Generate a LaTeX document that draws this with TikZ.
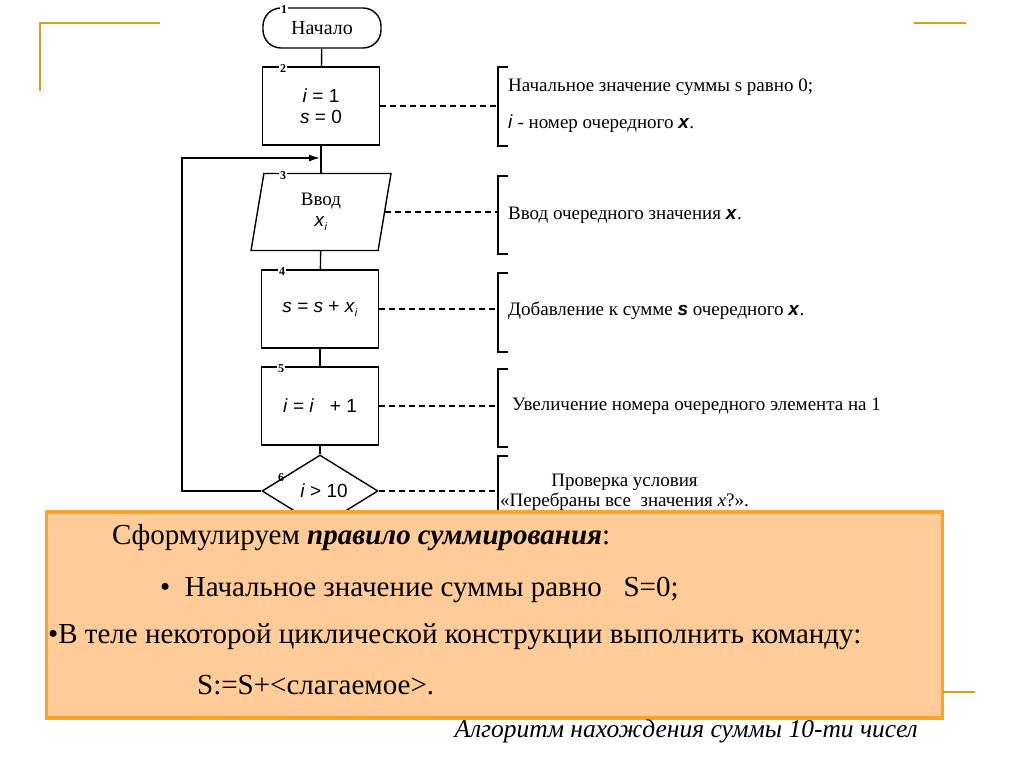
\documentclass[tikz,border=0pt]{standalone}
\usepackage{fontspec}
\setmainfont{Liberation Serif}
\setsansfont{Liberation Sans}
\usepackage{xcolor}
\usetikzlibrary{shapes.geometric, arrows.meta, positioning, calc}
\definecolor{cornergold}{RGB}{214, 160, 30}
\definecolor{peach}{RGB}{255, 204, 153}
\definecolor{boxorange}{RGB}{250, 165, 40}

\newcommand{\subi}{\raisebox{-4pt}{\fontsize{11}{11}\selectfont\textit{i}}}

\tikzset{
    block/.style={draw, line width=1.4pt, minimum width=117pt, minimum height=78pt,
                  align=center, font=\sffamily\fontsize{19}{22}\selectfont},
    blocknum/.style={fill=white, inner sep=1pt, font=\bfseries\fontsize{12}{12}\selectfont},
    note/.style={anchor=west, align=left, inner sep=0pt, font=\fontsize{19}{37}\selectfont},
    dashlink/.style={line width=1.4pt, dash pattern=on 6pt off 4pt},
    notebracket/.style={line width=1.5pt},
    flow/.style={line width=1.4pt},
    ruletext/.style={anchor=west, inner sep=0pt, font=\fontsize{29}{34}\selectfont}
}

\begin{document}
\begin{tikzpicture}[x=1pt, y=-1pt]
    \useasboundingbox (0,0) rectangle (1024,767);
    \fill[white] (0,0) rectangle (1024,767);

    % gold slide corners
    \draw[cornergold, line width=2pt] (40,91) -- (40,23) -- (160,23);
    \draw[cornergold, line width=2pt] (914,23) -- (966,23);

    % flowchart blocks
    \node[block, rounded corners=18pt, minimum width=118pt, minimum height=40pt,
          font=\fontsize{20}{22}\selectfont] (start) at (322,28) {Начало};
    \node[block] (init) at (321,106) {\textit{i} = 1\\[-1pt]\textit{s} = 0};
    \node[block, trapezium, trapezium left angle=71, trapezium right angle=109,
          trapezium stretches body, minimum width=140pt, minimum height=77pt,
          inner sep=0pt] (input) at (321,212)
          {{\rmfamily\fontsize{19}{21}\selectfont Ввод}\\[-1pt]\textit{x}\subi};
    \node[block] (add) at (320,309) {\textit{s} = \textit{s} + \textit{x}\subi};
    \node[block] (incr) at (320,406) {\textit{i} = \textit{i} \ \ + 1};
    \node[block, diamond, aspect=1.6, minimum width=116pt, minimum height=72pt,
          inner sep=0pt] (check) at (320,491) {\hspace*{8pt}\textit{i} > 10};

    % block numbers
    \node[blocknum] at (284,10) {1};
    \node[blocknum] at (283,69) {2};
    \node[blocknum] at (283,176) {3};
    \node[blocknum] at (282,272) {4};
    \node[blocknum] at (281,369) {5};
    \node[blocknum, fill=none] at (281,478) {6};

    % flow lines
    \coordinate (join) at (320,158);
    \coordinate (loopbot) at (182,491);
    \draw[flow] (start) -- (init);
    \draw[flow] (init) -- (input);
    \draw[flow] (input) -- (add);
    \draw[flow] (add) -- (incr);
    \draw[flow] (incr) -- (check);
    \draw[flow, -{Latex[length=11pt, width=7pt]}] (check.west) -- (loopbot) |- (join);

    % comments
    \node[note] (c2) at (508,106) {Начальное значение суммы s равно 0;\\
        \textit{\sffamily i} - номер очередного \textbf{\textit{\sffamily x}}.};
    \node[note] (c3) at (508,215) {Ввод очередного значения \textbf{\textit{\sffamily x}}.};
    \node[note] (c4) at (508,311) {Добавление к сумме \textbf{\textit{\sffamily s}} очередного \textbf{\textit{\sffamily x}}.};
    \node[note] (c5) at (512,406) {Увеличение номера очередного элемента на 1};
    \node[note, align=center, font=\fontsize{19}{20}\selectfont] (c6) at (500,492)
        {Проверка условия\\«Перебраны все\ \ значения \textit{x}?».};

    \foreach \blk/\cmt/\top/\bot in {init/c2/67/146, input/c3/176/254, add/c4/273/352, incr/c5/369/447} {
        \coordinate (b) at (498,\top);
        \coordinate (e) at (498,\bot);
        \draw[dashlink] (\blk.east) -- (\blk.east -| b);
        \draw[notebracket] ($(b)+(10,0)$) -- (b) -- (e) -- ++(10,0);
    }
    \coordinate (b6) at (498,456);
    \draw[dashlink] (check.east) -- (check.east -| b6);
    \draw[notebracket] ($(b6)+(10,0)$) -- (b6) -- (498,530);

    % summary box
    \node[draw=boxorange, fill=peach, line width=1.2pt, double=boxorange, double distance=0.8pt,
          minimum width=896pt, minimum height=206pt, inner sep=0pt] (rule) at (494.5,615) {};
    \draw[cornergold, line width=2pt] (rule.east |- 0,692) -- (975,692);
    \node[ruletext] (r1) at (112,538) {Сформулируем \textbf{\textit{правило суммирования}}:};
    \node[ruletext] (r2) at (160,590) {\textbullet\ \ Начальное значение суммы равно \ \ S=0;};
    \node[ruletext] (r3) at (48,637) {\textbullet В теле некоторой циклической конструкции выполнить команду:};
    \node[ruletext] (r4) at (197,685) {S:=S+<слагаемое>.};

    % caption
    \node[anchor=east, inner sep=0pt, font=\itshape\fontsize{25.5}{28}\selectfont] (cap) at (918,731)
        {Алгоритм нахождения суммы 10-ти чисел};
\end{tikzpicture}
\end{document}
